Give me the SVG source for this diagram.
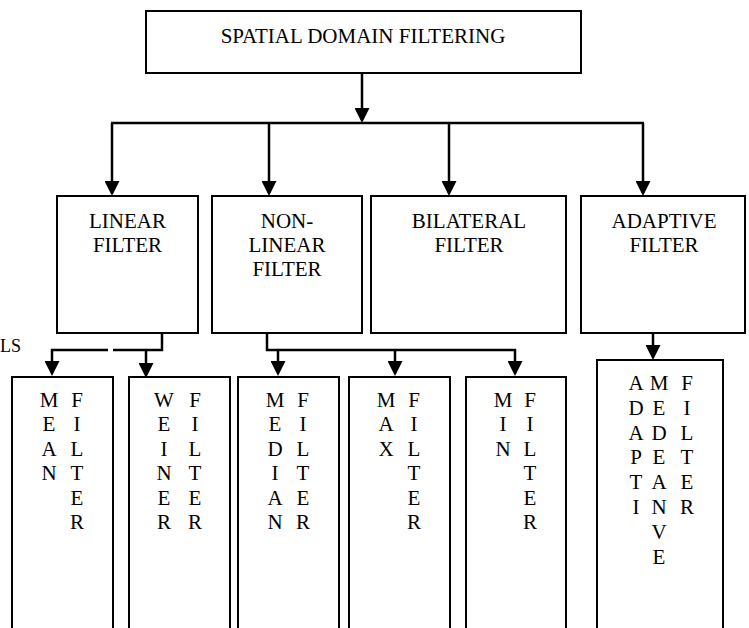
<svg xmlns="http://www.w3.org/2000/svg" width="749" height="628" viewBox="0 0 749 628">
<style>
.box{fill:#fff;stroke:#000;stroke-width:2}
.t{font-family:"Liberation Serif","Times New Roman",serif;font-size:21px;fill:#000;text-anchor:middle}
.v{font-family:"Liberation Serif","Times New Roman",serif;font-size:21px;fill:#000;text-anchor:middle}
.c{fill:none;stroke:#000;stroke-width:2.5}
</style>
<defs>
<marker id="ah" viewBox="0 0 15 15" refX="12" refY="7.5" markerWidth="15" markerHeight="15" markerUnits="userSpaceOnUse" orient="auto">
<path d="M0,0 L15,7.5 L0,15 z" fill="#000"/>
</marker>
</defs>
<rect width="749" height="628" fill="#fff"/>
<text x="0" y="352" class="v" style="text-anchor:start;font-size:18px">LS</text>
<g id="connectors">
<line class="c" x1="362" y1="73" x2="362" y2="120" marker-end="url(#ah)"/>
<line class="c" x1="111" y1="123" x2="644" y2="123"/>
<line class="c" x1="112" y1="123" x2="112" y2="193" marker-end="url(#ah)"/>
<line class="c" x1="269" y1="123" x2="269" y2="193" marker-end="url(#ah)"/>
<line class="c" x1="449" y1="123" x2="449" y2="193" marker-end="url(#ah)"/>
<line class="c" x1="643" y1="123" x2="643" y2="193" marker-end="url(#ah)"/>
<polyline class="c" points="162,333 162,350 113,350"/>
<polyline class="c" points="108,350 52,350 52,373" marker-end="url(#ah)"/>
<line class="c" x1="146" y1="350" x2="146" y2="375" marker-end="url(#ah)"/>
<polyline class="c" points="267,333 267,350 515,350 515,373" marker-end="url(#ah)"/>
<line class="c" x1="278" y1="350" x2="278" y2="373" marker-end="url(#ah)"/>
<line class="c" x1="395" y1="350" x2="395" y2="373" marker-end="url(#ah)"/>
<line class="c" x1="653" y1="333" x2="653" y2="357" marker-end="url(#ah)"/>
</g>
<g id="spatial">
<rect class="box" x="146" y="11" width="435" height="62"/>
<text class="t" x="363" y="43">SPATIAL DOMAIN FILTERING</text>
</g>
<g id="linear">
<rect class="box" x="57" y="196" width="141" height="137"/>
<text class="t" x="127.5" y="228">LINEAR<tspan x="127.5" dy="24">FILTER</tspan></text>
</g>
<g id="nonlinear">
<rect class="box" x="212" y="196" width="150" height="137"/>
<text class="t" x="287" y="228">NON-<tspan x="287" dy="24">LINEAR</tspan><tspan x="287" dy="24">FILTER</tspan></text>
</g>
<g id="bilateral">
<rect class="box" x="371" y="196" width="195" height="137"/>
<text class="t" x="469" y="228">BILATERAL<tspan x="469" dy="24">FILTER</tspan></text>
</g>
<g id="adaptive">
<rect class="box" x="581" y="196" width="164" height="137"/>
<text class="t" x="664" y="228">ADAPTIVE<tspan x="664" dy="24">FILTER</tspan></text>
</g>
<g id="mean">
<rect class="box" x="12" y="377" width="101" height="270"/>
<text class="v" x="49" y="407">M<tspan x="49" dy="24.4">E</tspan><tspan x="49" dy="24.4">A</tspan><tspan x="49" dy="24.4">N</tspan></text>
<text class="v" x="77" y="407">F<tspan x="77" dy="24.4">I</tspan><tspan x="77" dy="24.4">L</tspan><tspan x="77" dy="24.4">T</tspan><tspan x="77" dy="24.4">E</tspan><tspan x="77" dy="24.4">R</tspan></text>
</g>
<g id="weiner">
<rect class="box" x="129" y="377" width="101" height="270"/>
<text class="v" x="164" y="407">W<tspan x="164" dy="24.4">E</tspan><tspan x="164" dy="24.4">I</tspan><tspan x="164" dy="24.4">N</tspan><tspan x="164" dy="24.4">E</tspan><tspan x="164" dy="24.4">R</tspan></text>
<text class="v" x="195" y="407">F<tspan x="195" dy="24.4">I</tspan><tspan x="195" dy="24.4">L</tspan><tspan x="195" dy="24.4">T</tspan><tspan x="195" dy="24.4">E</tspan><tspan x="195" dy="24.4">R</tspan></text>
</g>
<g id="median">
<rect class="box" x="238" y="377" width="101" height="270"/>
<text class="v" x="275" y="407">M<tspan x="275" dy="24.4">E</tspan><tspan x="275" dy="24.4">D</tspan><tspan x="275" dy="24.4">I</tspan><tspan x="275" dy="24.4">A</tspan><tspan x="275" dy="24.4">N</tspan></text>
<text class="v" x="303" y="407">F<tspan x="303" dy="24.4">I</tspan><tspan x="303" dy="24.4">L</tspan><tspan x="303" dy="24.4">T</tspan><tspan x="303" dy="24.4">E</tspan><tspan x="303" dy="24.4">R</tspan></text>
</g>
<g id="max">
<rect class="box" x="349" y="377" width="101" height="270"/>
<text class="v" x="386" y="407">M<tspan x="386" dy="24.4">A</tspan><tspan x="386" dy="24.4">X</tspan></text>
<text class="v" x="414" y="407">F<tspan x="414" dy="24.4">I</tspan><tspan x="414" dy="24.4">L</tspan><tspan x="414" dy="24.4">T</tspan><tspan x="414" dy="24.4">E</tspan><tspan x="414" dy="24.4">R</tspan></text>
</g>
<g id="min">
<rect class="box" x="466" y="377" width="100" height="270"/>
<text class="v" x="503" y="407">M<tspan x="503" dy="24.4">I</tspan><tspan x="503" dy="24.4">N</tspan></text>
<text class="v" x="530" y="407">F<tspan x="530" dy="24.4">I</tspan><tspan x="530" dy="24.4">L</tspan><tspan x="530" dy="24.4">T</tspan><tspan x="530" dy="24.4">E</tspan><tspan x="530" dy="24.4">R</tspan></text>
</g>
<g id="adaptive-median">
<rect class="box" x="597" y="360" width="126" height="290"/>
<text class="v" x="636" y="390">A<tspan x="636" dy="24.8">D</tspan><tspan x="636" dy="24.8">A</tspan><tspan x="636" dy="24.8">P</tspan><tspan x="636" dy="24.8">T</tspan><tspan x="636" dy="24.8">I</tspan></text>
<text class="v" x="659" y="390">M<tspan x="659" dy="24.8">E</tspan><tspan x="659" dy="24.8">D</tspan><tspan x="659" dy="24.8">E</tspan><tspan x="659" dy="24.8">A</tspan><tspan x="659" dy="24.8">N</tspan><tspan x="659" dy="24.8">V</tspan><tspan x="659" dy="24.8">E</tspan></text>
<text class="v" x="687" y="390">F<tspan x="687" dy="24.8">I</tspan><tspan x="687" dy="24.8">L</tspan><tspan x="687" dy="24.8">T</tspan><tspan x="687" dy="24.8">E</tspan><tspan x="687" dy="24.8">R</tspan></text>
</g>
</svg>
